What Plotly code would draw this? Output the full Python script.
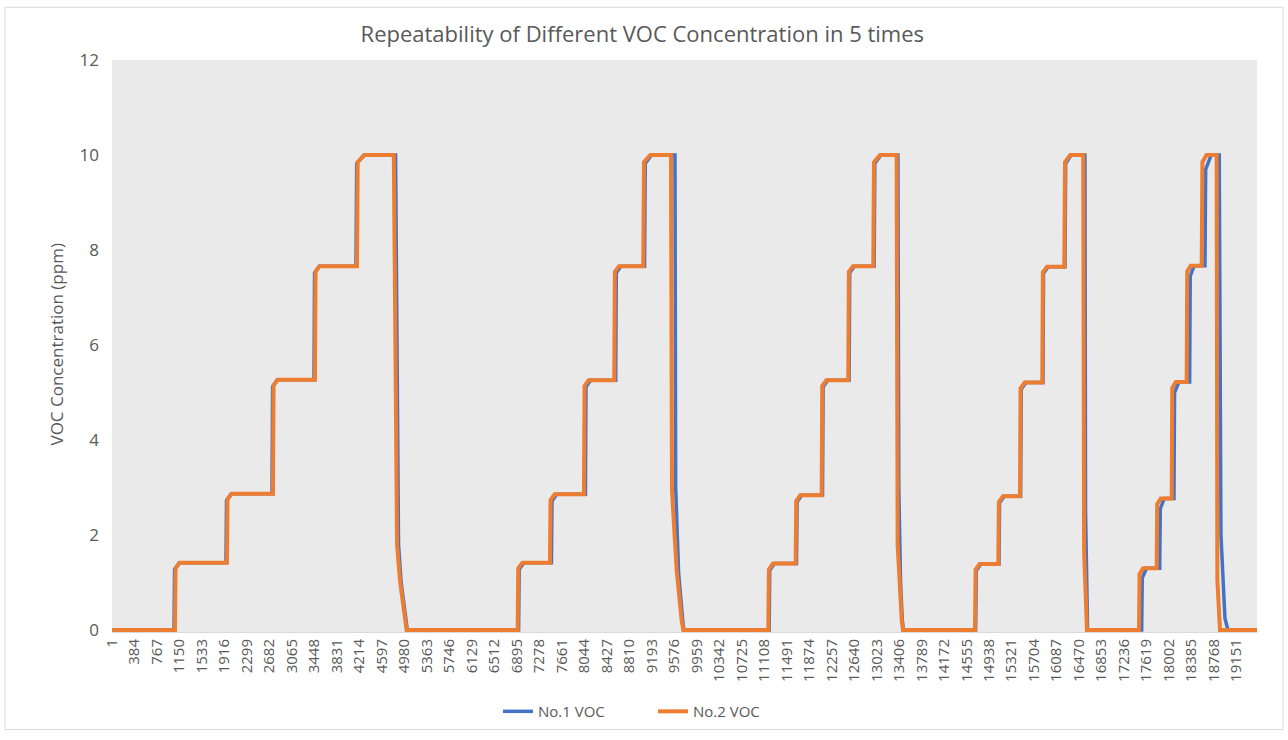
import plotly.graph_objects as go

# x-axis tick labels (sample index categories shown every 383 samples)
tick_values = [1, 384, 767, 1150, 1533, 1916, 2299, 2682, 3065, 3448, 3831, 4214,
               4597, 4980, 5363, 5746, 6129, 6512, 6895, 7278, 7661, 8044, 8427,
               8810, 9193, 9576, 9959, 10342, 10725, 11108, 11491, 11874, 12257,
               12640, 13023, 13406, 13789, 14172, 14555, 14938, 15321, 15704,
               16087, 16470, 16853, 17236, 17619, 18002, 18385, 18768, 19151]
tick_labels = [str(v) for v in tick_values]

# No.1 VOC key samples (index, ppm)
no1_idx = [1, 1056, 1066, 1146, 1941, 1951, 2031, 2725, 2735, 2815, 3440, 3450, 3530,
           4155, 4168, 4290, 4830, 4880, 4925, 5005, 5030,
           6925, 6935, 7015, 7484, 7494, 7574, 8063, 8073, 8153, 8579, 8589, 8669,
           9070, 9082, 9190, 9588, 9600, 9650, 9720, 9740,
           11192, 11202, 11282, 11658, 11668, 11748, 12101, 12111, 12191, 12554, 12564, 12644,
           12980, 12992, 13095, 13385, 13400, 13430, 13460, 13480,
           14709, 14719, 14799, 15106, 15116, 15196, 15475, 15485, 15565, 15855, 15865, 15945,
           16230, 16242, 16335, 16570, 16580, 16600, 16615,
           17536, 17546, 17620, 17843, 17853, 17920, 18086, 18096, 18170, 18353, 18363, 18430,
           18614, 18626, 18720, 18857, 18886, 18954, 19005, 19500]
no1_val = [0, 0, 1.28, 1.42, 1.42, 2.73, 2.87, 2.87, 5.12, 5.27, 5.27, 7.52, 7.66,
           7.66, 9.82, 10.0, 10.0, 1.8, 1.0, 0.25, 0,
           0, 1.28, 1.42, 1.42, 2.72, 2.86, 2.86, 5.12, 5.26, 5.26, 7.52, 7.66,
           7.66, 9.82, 10.0, 10.0, 3.0, 1.2, 0.2, 0,
           0, 1.26, 1.40, 1.40, 2.70, 2.84, 2.84, 5.12, 5.26, 5.26, 7.52, 7.66,
           7.66, 9.82, 10.0, 10.0, 3.0, 1.0, 0.2, 0,
           0, 1.25, 1.39, 1.39, 2.68, 2.82, 2.82, 5.07, 5.21, 5.21, 7.51, 7.65,
           7.65, 9.82, 10.0, 10.0, 2.5, 0.6, 0,
           0, 1.10, 1.30, 1.30, 2.55, 2.77, 2.77, 5.00, 5.22, 5.22, 7.45, 7.67,
           7.67, 9.70, 10.0, 10.0, 2.0, 0.25, 0, 0]

# No.2 VOC key samples (index, ppm)
no2_idx = [1, 1073, 1083, 1153, 1958, 1968, 2038, 2742, 2752, 2822, 3457, 3467, 3537,
           4172, 4185, 4300, 4800, 4855, 4905, 4990, 5018,
           6909, 6919, 6989, 7459, 7469, 7539, 8038, 8048, 8118, 8554, 8564, 8634,
           9048, 9060, 9170, 9520, 9537, 9617, 9702, 9730,
           11177, 11187, 11257, 11643, 11653, 11723, 12086, 12096, 12166, 12539, 12549, 12619,
           12965, 12977, 13080, 13363, 13380, 13420, 13450, 13471,
           14697, 14707, 14777, 15094, 15104, 15174, 15463, 15473, 15543, 15843, 15853, 15923,
           16218, 16230, 16320, 16541, 16555, 16590, 16604,
           17490, 17500, 17560, 17791, 17801, 17861, 18047, 18057, 18117, 18302, 18312, 18372,
           18558, 18570, 18640, 18813, 18825, 18870, 19500]
no2_val = [0, 0, 1.30, 1.42, 1.42, 2.75, 2.87, 2.87, 5.15, 5.27, 5.27, 7.54, 7.66,
           7.66, 9.85, 10.0, 10.0, 1.8, 1.04, 0.27, 0,
           0, 1.30, 1.42, 1.42, 2.74, 2.86, 2.86, 5.14, 5.26, 5.26, 7.54, 7.66,
           7.66, 9.85, 10.0, 10.0, 2.93, 1.26, 0.2, 0,
           0, 1.28, 1.40, 1.40, 2.72, 2.84, 2.84, 5.14, 5.26, 5.26, 7.54, 7.66,
           7.66, 9.85, 10.0, 10.0, 1.8, 0.6, 0.2, 0,
           0, 1.27, 1.39, 1.39, 2.70, 2.82, 2.82, 5.09, 5.21, 5.21, 7.53, 7.65,
           7.65, 9.85, 10.0, 10.0, 1.67, 0.48, 0,
           0, 1.18, 1.30, 1.30, 2.65, 2.77, 2.77, 5.10, 5.22, 5.22, 7.55, 7.67,
           7.67, 9.85, 10.0, 10.0, 1.05, 0, 0]

FONT = "Open Sans"
GREY = "#595959"

fig = go.Figure()
fig.add_trace(go.Scatter(x=no1_idx, y=no1_val, mode="lines", name="No.1 VOC",
                         line=dict(color="#4472C4", width=3.5)))
fig.add_trace(go.Scatter(x=no2_idx, y=no2_val, mode="lines", name="No.2 VOC",
                         line=dict(color="#ED7D31", width=4)))

L, R, T, B = 112, 31, 60, 105
W, H = 1288, 740
pw, ph = W - L - R, H - T - B

def px_x(p):
    return (p - L) / pw

def px_y(p):
    return (H - B - p) / ph

fig.update_layout(
    width=W, height=H,
    margin=dict(l=L, r=R, t=T, b=B),
    paper_bgcolor="white",
    plot_bgcolor="#EAEAEA",
    font=dict(family=FONT, color=GREY),
    title=dict(text="Repeatability of Different VOC Concentration in 5 times",
               x=px_x(683), xanchor="center", y=1 - 34 / H, yanchor="middle",
               font=dict(family=FONT, size=22, color=GREY)),
    showlegend=True,
    legend=dict(orientation="h", x=px_x(498), xanchor="left",
                y=px_y(715), yanchor="middle",
                font=dict(family=FONT, size=15, color=GREY),
                itemwidth=30, entrywidth=110, entrywidthmode="pixels",
                bgcolor="rgba(0,0,0,0)"),
    xaxis=dict(range=[0.5, 19500], tickmode="array", tickvals=tick_values,
               ticktext=tick_labels, tickangle=-90, showgrid=False, zeroline=False,
               showline=True, linecolor="#D9D9D9", linewidth=1, ticks="",
               tickfont=dict(family=FONT, size=15, color=GREY)),
    yaxis=dict(range=[-0.04, 12], tickmode="array", tickvals=[0, 2, 4, 6, 8, 10, 12],
               showgrid=False, zeroline=False, showline=False, ticks="",
               ticklabelstandoff=12,
               tickfont=dict(family=FONT, size=17, color=GREY)),
    annotations=[dict(text="VOC Concentration (ppm)", textangle=-90,
                      xref="paper", yref="paper", x=px_x(57), y=px_y(346),
                      xanchor="center", yanchor="middle", showarrow=False,
                      font=dict(family=FONT, size=17, color=GREY))],
    shapes=[dict(type="rect", xref="paper", yref="paper",
                 x0=px_x(5), x1=px_x(1283), y0=px_y(733), y1=px_y(7),
                 line=dict(color="#D9D9D9", width=1), fillcolor="rgba(0,0,0,0)",
                 layer="below")],
)

fig.write_html("out.html", config={"displayModeBar": False},
               post_script="document.body.style.margin='0';document.body.style.overflow='hidden';")
